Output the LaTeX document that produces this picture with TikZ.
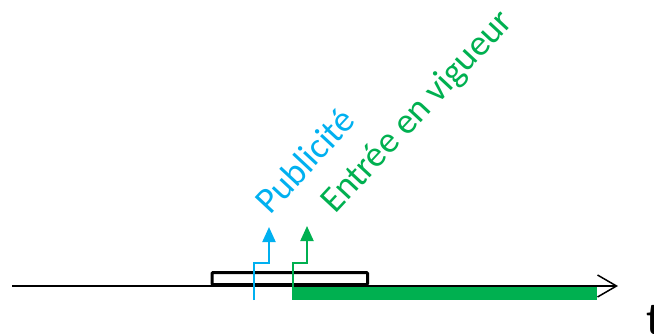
\documentclass[tikz,border=0pt]{standalone}
\usepackage{fontspec}
\setmainfont{Carlito}
\usetikzlibrary{arrows.meta}
\definecolor{pubblue}{RGB}{0,176,240}
\definecolor{vigreen}{RGB}{0,176,80}
\tikzset{
  label text/.style={anchor=base west, rotate=47, inner sep=0pt},
  step line/.style={line width=2pt, -{Triangle[length=15pt,width=13pt]}}
}
\begin{document}
\begin{tikzpicture}[x=1pt,y=-1pt]
\useasboundingbox (0,0) rectangle (654,333);
{\fontsize{36.5}{40}\selectfont

% Drawing validity bar
\fill [vigreen] (292,287) rectangle (597,300);%

% Drawing time axis
\coordinate (O) at (12,286);
\coordinate (T) at (618,286);
\draw [line width=1.5pt, -{Straight Barb[length=19pt,width=22pt,line width=1.5pt]}] (O) -- (T);%
\node (tlabel) [anchor=north west, inner sep=0pt, font=\fontsize{46}{50}\selectfont] at (646,305) {t};%

% Drawing period box
\draw [line width=3pt, rounded corners=1pt] (212,272.5) rectangle (367.5,284.5);%

% Drawing step Publicite
\coordinate (pubA) at (254,300);
\coordinate (pubB) at (254,263);
\coordinate (pubC) at (269,263);
\coordinate (pubTip) at (269,227);
\draw [step line, pubblue] (pubA) -- (pubB) -- (pubC) -- (pubTip);%
\node (pub) [label text, text=pubblue] at (270,216) {Publicité};%

% Drawing step Entree en vigueur
\coordinate (vigA) at (293,290);
\coordinate (vigB) at (293,263);
\coordinate (vigC) at (307,263);
\coordinate (vigTip) at (307,226);
\draw [step line, vigreen] (vigA) -- (vigB) -- (vigC) -- (vigTip);%
\node (vig) [label text, text=vigreen] at (335,215) {Entrée en vigueur};%
}
\end{tikzpicture}
\end{document}
